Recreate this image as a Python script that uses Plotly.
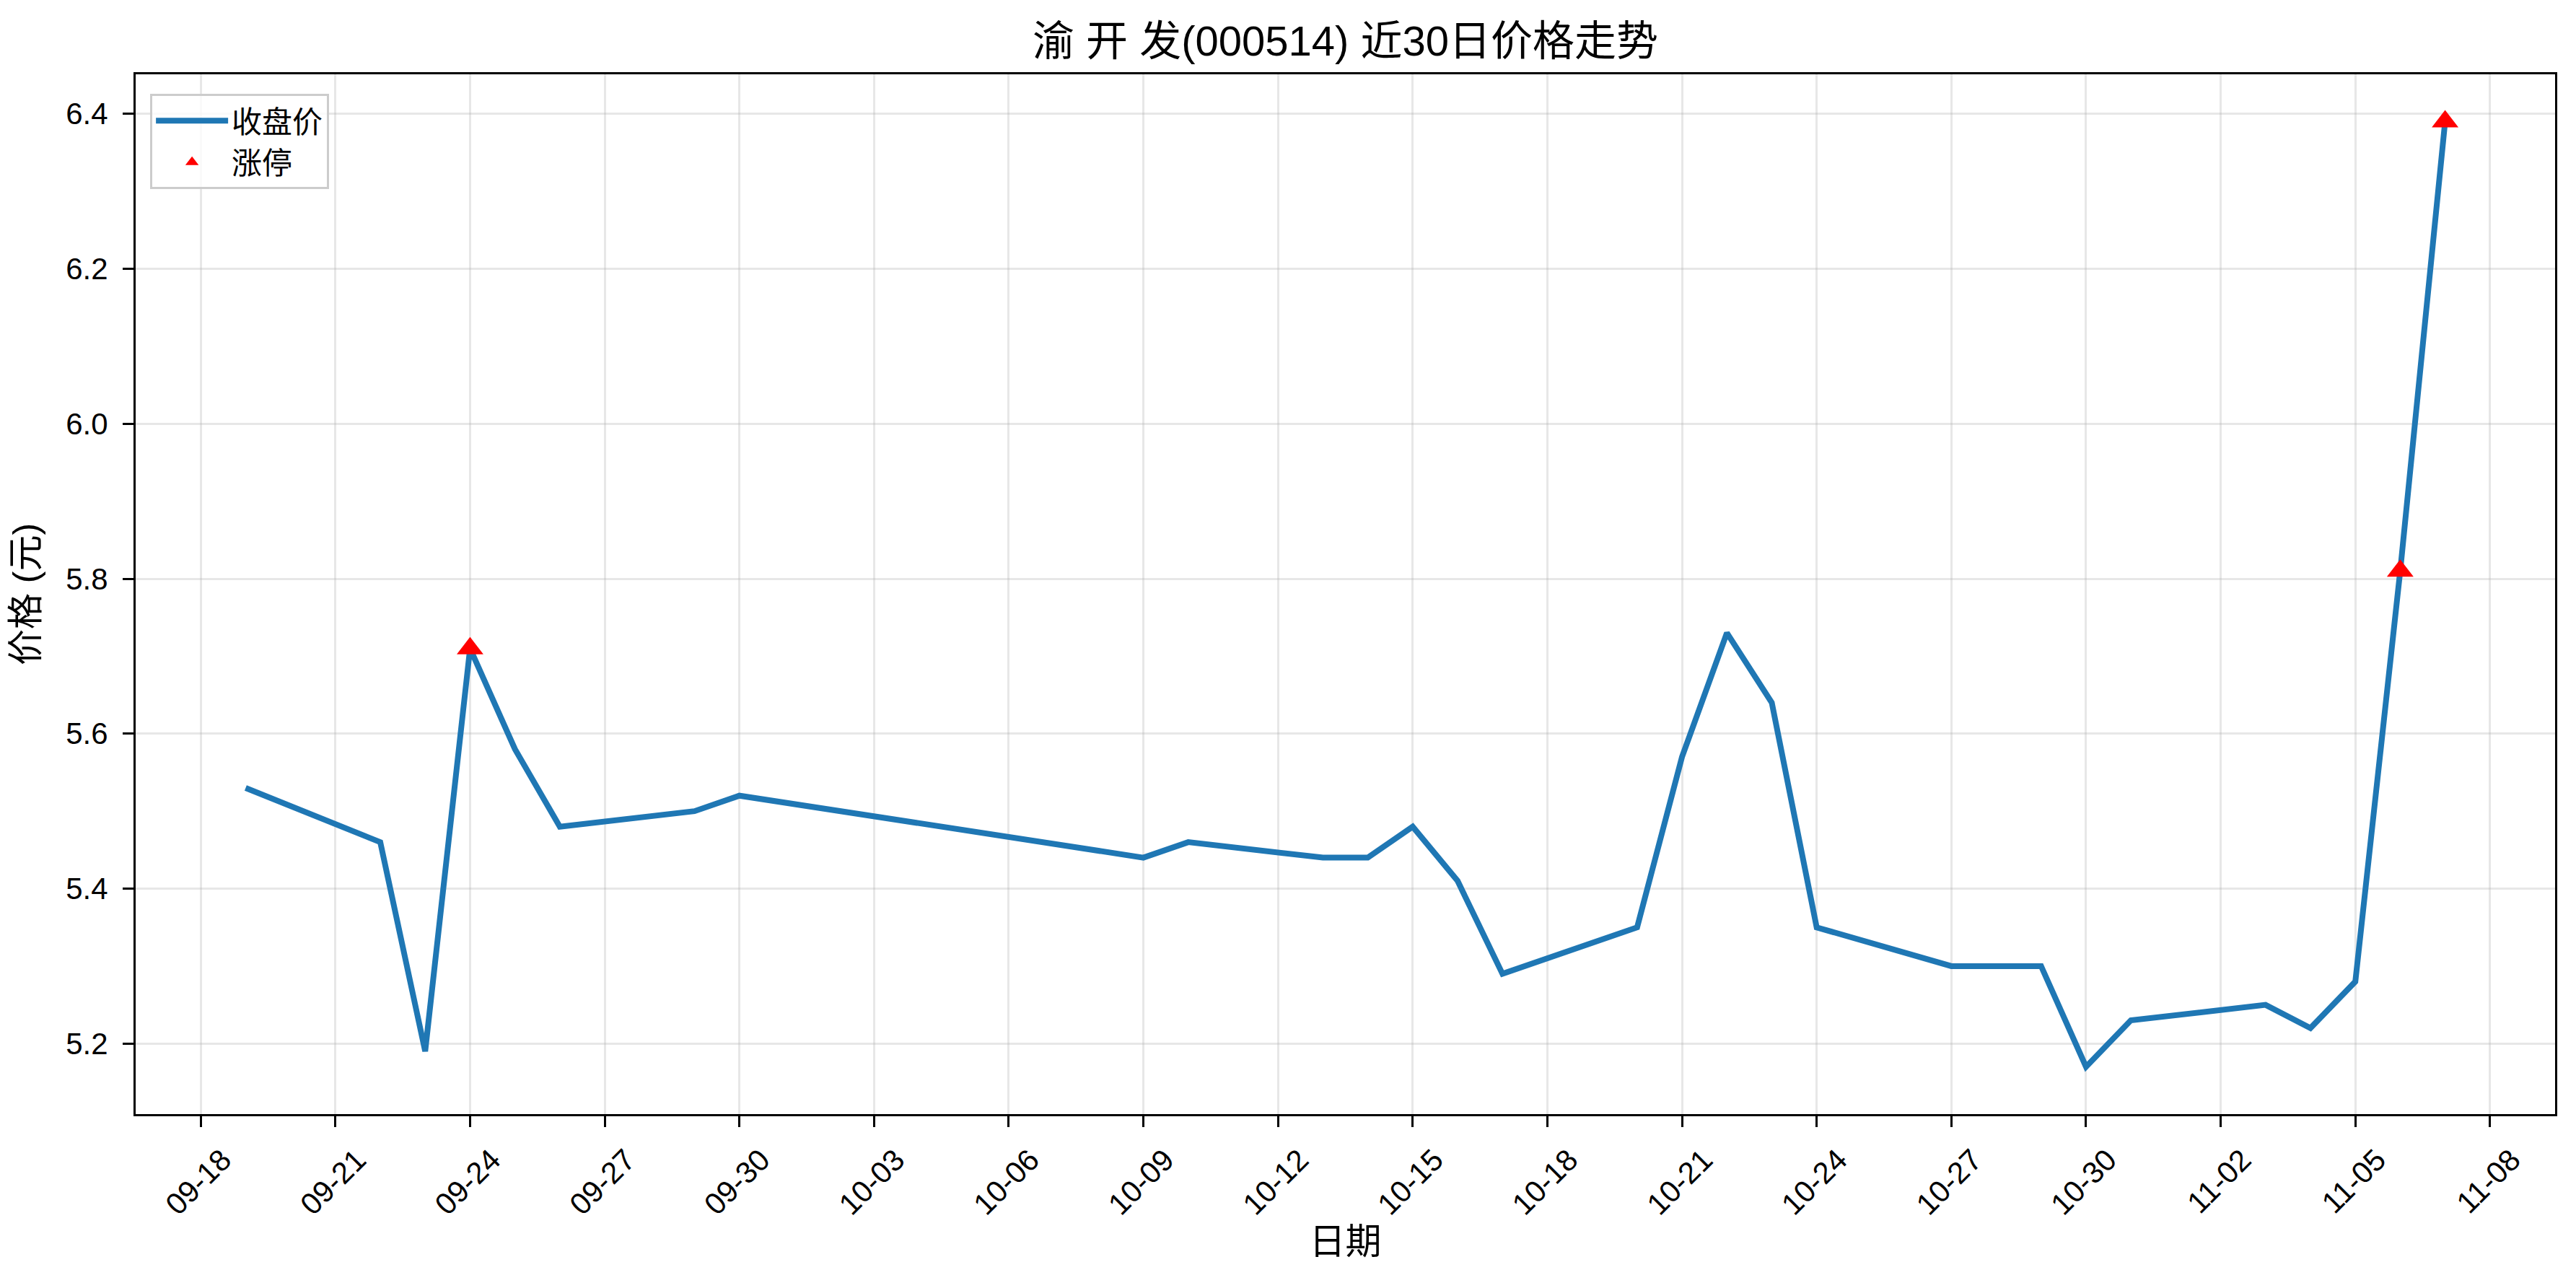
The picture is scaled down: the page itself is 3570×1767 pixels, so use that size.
import plotly.graph_objects as go
import pandas as pd

# ---- data ----
dates = ["2025-09-19", "2025-09-22", "2025-09-23", "2025-09-24", "2025-09-25", "2025-09-26",
         "2025-09-29", "2025-09-30", "2025-10-09", "2025-10-10", "2025-10-13", "2025-10-14",
         "2025-10-15", "2025-10-16", "2025-10-17", "2025-10-20", "2025-10-21", "2025-10-22",
         "2025-10-23", "2025-10-24", "2025-10-27", "2025-10-28", "2025-10-29", "2025-10-30",
         "2025-10-31", "2025-11-03", "2025-11-04", "2025-11-05", "2025-11-06", "2025-11-07"]
close = [5.53, 5.46, 5.19, 5.71, 5.58, 5.48,
         5.50, 5.52, 5.44, 5.46, 5.44, 5.44,
         5.48, 5.41, 5.29, 5.35, 5.57, 5.73,
         5.64, 5.35, 5.30, 5.30, 5.30, 5.17,
         5.23, 5.25, 5.22, 5.28, 5.81, 6.39]
limit_up_dates = ["2025-09-24", "2025-11-06", "2025-11-07"]
limit_up_prices = [5.71, 5.81, 6.39]

title_text = "渝 开 发(000514) 近30日价格走势"
x_label = "日期"
y_label = "价格 (元)"
series_names = ["收盘价", "涨停"]

FONT = "Liberation Sans, Arial, Noto Sans CJK SC, sans-serif"
# the page body has an 8px margin, so the figure is 8px smaller and shifted
OFF = 8
W, H = 3570 - OFF, 1767 - OFF
L, R, T, B = 188 - OFF, 3541 - OFF, 103 - OFF, 1544 - OFF

d = pd.to_datetime(dates)
span = d.max() - d.min()
xr = [d.min() - 0.05 * span, d.max() + 0.05 * span]
ymin, ymax = min(close), max(close)
yspan = ymax - ymin
yr = [ymin - 0.05 * yspan, ymax + 0.05 * yspan]

fig = go.Figure()
fig.add_trace(go.Scatter(
    x=d, y=close, mode="lines", name=series_names[0],
    line=dict(color="#1f77b4", width=8),
))
fig.add_trace(go.Scatter(
    x=pd.to_datetime(limit_up_dates), y=limit_up_prices, mode="markers", name=series_names[1],
    marker=dict(symbol="triangle-up", color="red", size=32, line=dict(width=0)),
))

grid = "rgba(176,176,176,0.3)"
fig.update_layout(
    width=W, height=H,
    margin=dict(l=L, r=W - R, t=T, b=H - B, autoexpand=False),
    paper_bgcolor="white", plot_bgcolor="white",
    font=dict(family=FONT, size=42, color="black"),
    title=dict(text=title_text, x=(L + R) / 2 / W, xref="container", xanchor="center",
               y=1 - (57 - OFF) / H, yref="container", yanchor="middle",
               font=dict(size=58, family=FONT, color="black")),
    showlegend=True,
    legend=dict(x=0.006, y=0.981, xanchor="left", yanchor="top",
                bgcolor="rgba(255,255,255,0.8)", bordercolor="#cccccc", borderwidth=3,
                font=dict(size=42, family=FONT), itemwidth=100, tracegroupgap=0,
                itemsizing="trace"),
    xaxis=dict(
        type="date", range=xr, tick0="2025-09-18", dtick=3 * 86400000, tickformat="%m-%d",
        tickangle=-45, ticks="outside", ticklen=15, tickwidth=3, tickcolor="black",
        showgrid=True, gridcolor=grid, gridwidth=3, zeroline=False,
        showline=True, linecolor="black", linewidth=3, mirror=True,
        tickfont=dict(size=42, family=FONT), ticklabelshift=30, ticklabelstandoff=4,
        title=dict(text=x_label, font=dict(size=50, family=FONT), standoff=0),
        automargin=False,
    ),
    yaxis=dict(
        range=yr, tick0=5.2, dtick=0.2, tickformat=".1f",
        ticks="outside", ticklen=15, tickwidth=3, tickcolor="black",
        showgrid=True, gridcolor=grid, gridwidth=3, zeroline=False,
        showline=True, linecolor="black", linewidth=3, mirror=True,
        tickfont=dict(size=42, family=FONT), ticklabelstandoff=12,
        title=dict(text=y_label, font=dict(size=50, family=FONT), standoff=25),
        automargin=False,
    ),
)

fig.write_html("out.html")
